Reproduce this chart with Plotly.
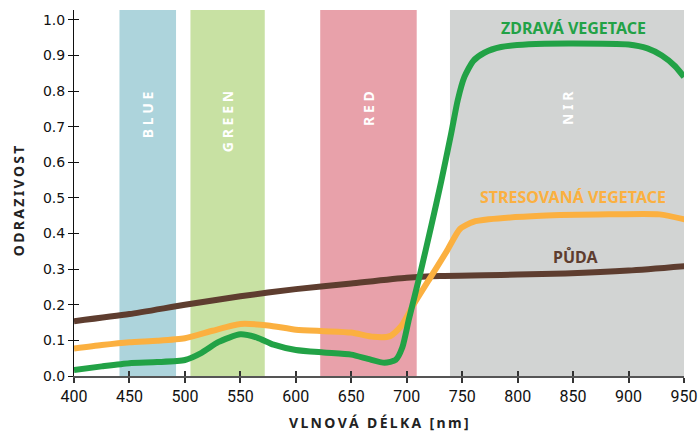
import plotly.graph_objects as go

# ---- data ----
soil_wl = [400, 450, 500, 550, 600, 650, 700, 730, 770, 800, 843, 900, 953]
soil_val = [0.154, 0.174, 0.200, 0.224, 0.244, 0.260, 0.276, 0.281, 0.283, 0.285, 0.288, 0.296, 0.309]

healthy_wl = [400, 425, 450, 475, 500, 515, 530, 550, 565, 580, 600, 625, 650, 665, 680, 690,
              696, 702, 712, 722, 731, 740, 746, 752, 760, 770, 785, 810, 850, 900, 917, 930, 942, 950]
healthy_val = [0.017, 0.027, 0.036, 0.039, 0.045, 0.065, 0.095, 0.117, 0.108, 0.088, 0.073, 0.066,
               0.060, 0.048, 0.037, 0.045, 0.080, 0.160, 0.286, 0.420, 0.545, 0.680, 0.775, 0.840,
               0.885, 0.908, 0.924, 0.932, 0.934, 0.931, 0.920, 0.900, 0.870, 0.840]

stressed_wl = [400, 425, 450, 475, 500, 525, 550, 575, 600, 625, 650, 670, 685, 695, 706, 721,
               736, 748, 760, 774, 821, 882, 928, 953]
stressed_val = [0.077, 0.087, 0.095, 0.099, 0.106, 0.127, 0.146, 0.142, 0.130, 0.126, 0.122, 0.110,
                0.112, 0.140, 0.200, 0.275, 0.350, 0.413, 0.433, 0.440, 0.450, 0.454, 0.454, 0.438]

band_names = ["BLUE", "GREEN", "RED", "NIR"]
band_start = [441, 505, 622, 739]
band_end = [492, 572, 709, 950]
band_colors = ["#ADD4DC", "#C8E1A3", "#E8A1AA", "#D2D4D3"]

series_names = ["ZDRAVÁ VEGETACE", "STRESOVANÁ VEGETACE", "PŮDA"]
series_colors = ["#22A246", "#FBB040", "#5E3D2F"]
label_x = [850, 850, 852]
label_y = [0.978, 0.503, 0.333]

x_ticks = [400, 450, 500, 550, 600, 650, 700, 750, 800, 850, 900, 950]
y_ticks = [0.0, 0.1, 0.2, 0.3, 0.4, 0.5, 0.6, 0.7, 0.8, 0.9, 1.0]

x_title = "VLNOVÁ DÉLKA [nm]"
y_title = "ODRAZIVOST"

def spaced(s, sep="\u2009"):
    return sep.join(list(s))

fig = go.Figure()

curves = [(healthy_wl, healthy_val), (stressed_wl, stressed_val), (soil_wl, soil_val)]
for idx in [2, 1, 0]:
    wl, val = curves[idx]
    fig.add_trace(go.Scatter(x=wl, y=val, mode="lines", name=series_names[idx],
                             line=dict(color=series_colors[idx], width=6, shape="spline", smoothing=0.6),
                             hoverinfo="skip", showlegend=False))

fig.add_trace(go.Scatter(x=[None], y=[None], xaxis="x2", yaxis="y2", showlegend=False, hoverinfo="skip"))

shapes = []
for s, e, c in zip(band_start, band_end, band_colors):
    shapes.append(dict(type="rect", xref="x", yref="y domain", x0=s, x1=e, y0=0, y1=1,
                       fillcolor=c, line=dict(width=0), layer="below"))

annotations = []
for name, s, e in zip(band_names, band_start, band_end):
    annotations.append(dict(x=(s + e) / 2, y=0.806, xref="x", yref="y", text=spaced(name, "\u2009\u200a"),
                            textangle=-90, showarrow=False, xanchor="center", yanchor="top",
                            font=dict(family="Noto Sans", size=14, color="white", weight="bold")))
for name, c, lx, ly in zip(series_names, series_colors, label_x, label_y):
    annotations.append(dict(x=lx, y=ly, xref="x", yref="y", text=name, showarrow=False,
                            xanchor="center", yanchor="middle",
                            font=dict(family="Noto Sans", size=16, color=c, weight="bold")))
annotations.append(dict(x=0.5, y=-0.128, xref="paper", yref="paper", text=spaced(x_title),
                        showarrow=False, xanchor="center", yanchor="middle",
                        font=dict(family="Noto Sans", size=14, color="#222222", weight="bold")))
annotations.append(dict(x=-0.092, y=0.48, xref="paper", yref="paper", text=spaced(y_title),
                        textangle=-90, showarrow=False, xanchor="center", yanchor="middle",
                        font=dict(family="Noto Sans", size=14, color="#222222", weight="bold")))

xr = [400, 950]
yr = [0, 1.028]

fig.update_layout(
    width=699, height=433,
    margin=dict(l=74, r=15, t=10, b=57, autoexpand=False),
    paper_bgcolor="white", plot_bgcolor="white",
    shapes=shapes, annotations=annotations,
    xaxis=dict(range=xr, tickvals=x_ticks, ticktext=[str(v) for v in x_ticks], automargin=False,
               showgrid=False, zeroline=False, showline=True, linecolor="#555555", linewidth=2,
               ticks="outside", ticklen=5, tickwidth=1.5, tickcolor="#333333",
               tickfont=dict(family="Liberation Sans Narrow, Roboto, sans-serif", size=16, color="#111111")),
    yaxis=dict(range=yr, tickvals=y_ticks, ticktext=["%.1f" % v for v in y_ticks], automargin=False,
               showgrid=False, zeroline=False, showline=True, linecolor="#111111", linewidth=1,
               ticks="outside", ticklen=5, tickwidth=1.2, tickcolor="#111111",
               tickfont=dict(family="DejaVu Sans", size=14, color="#111111")),
    xaxis2=dict(range=xr, overlaying="x", side="bottom", anchor="y", tickvals=x_ticks, automargin=False,
                showticklabels=False, showgrid=False, zeroline=False, showline=False,
                ticks="inside", ticklen=5, tickwidth=1.5, tickcolor="#333333"),
    yaxis2=dict(range=yr, overlaying="y", side="left", anchor="x", tickvals=y_ticks, automargin=False,
                showticklabels=False, showgrid=False, zeroline=False, showline=False,
                ticks="inside", ticklen=5, tickwidth=1.2, tickcolor="#111111"),
)

fig.write_html("out.html", config={"displayModeBar": False},
               post_script="document.body.style.margin='0';document.body.style.padding='0';"
                           "document.documentElement.style.overflow='hidden';")
